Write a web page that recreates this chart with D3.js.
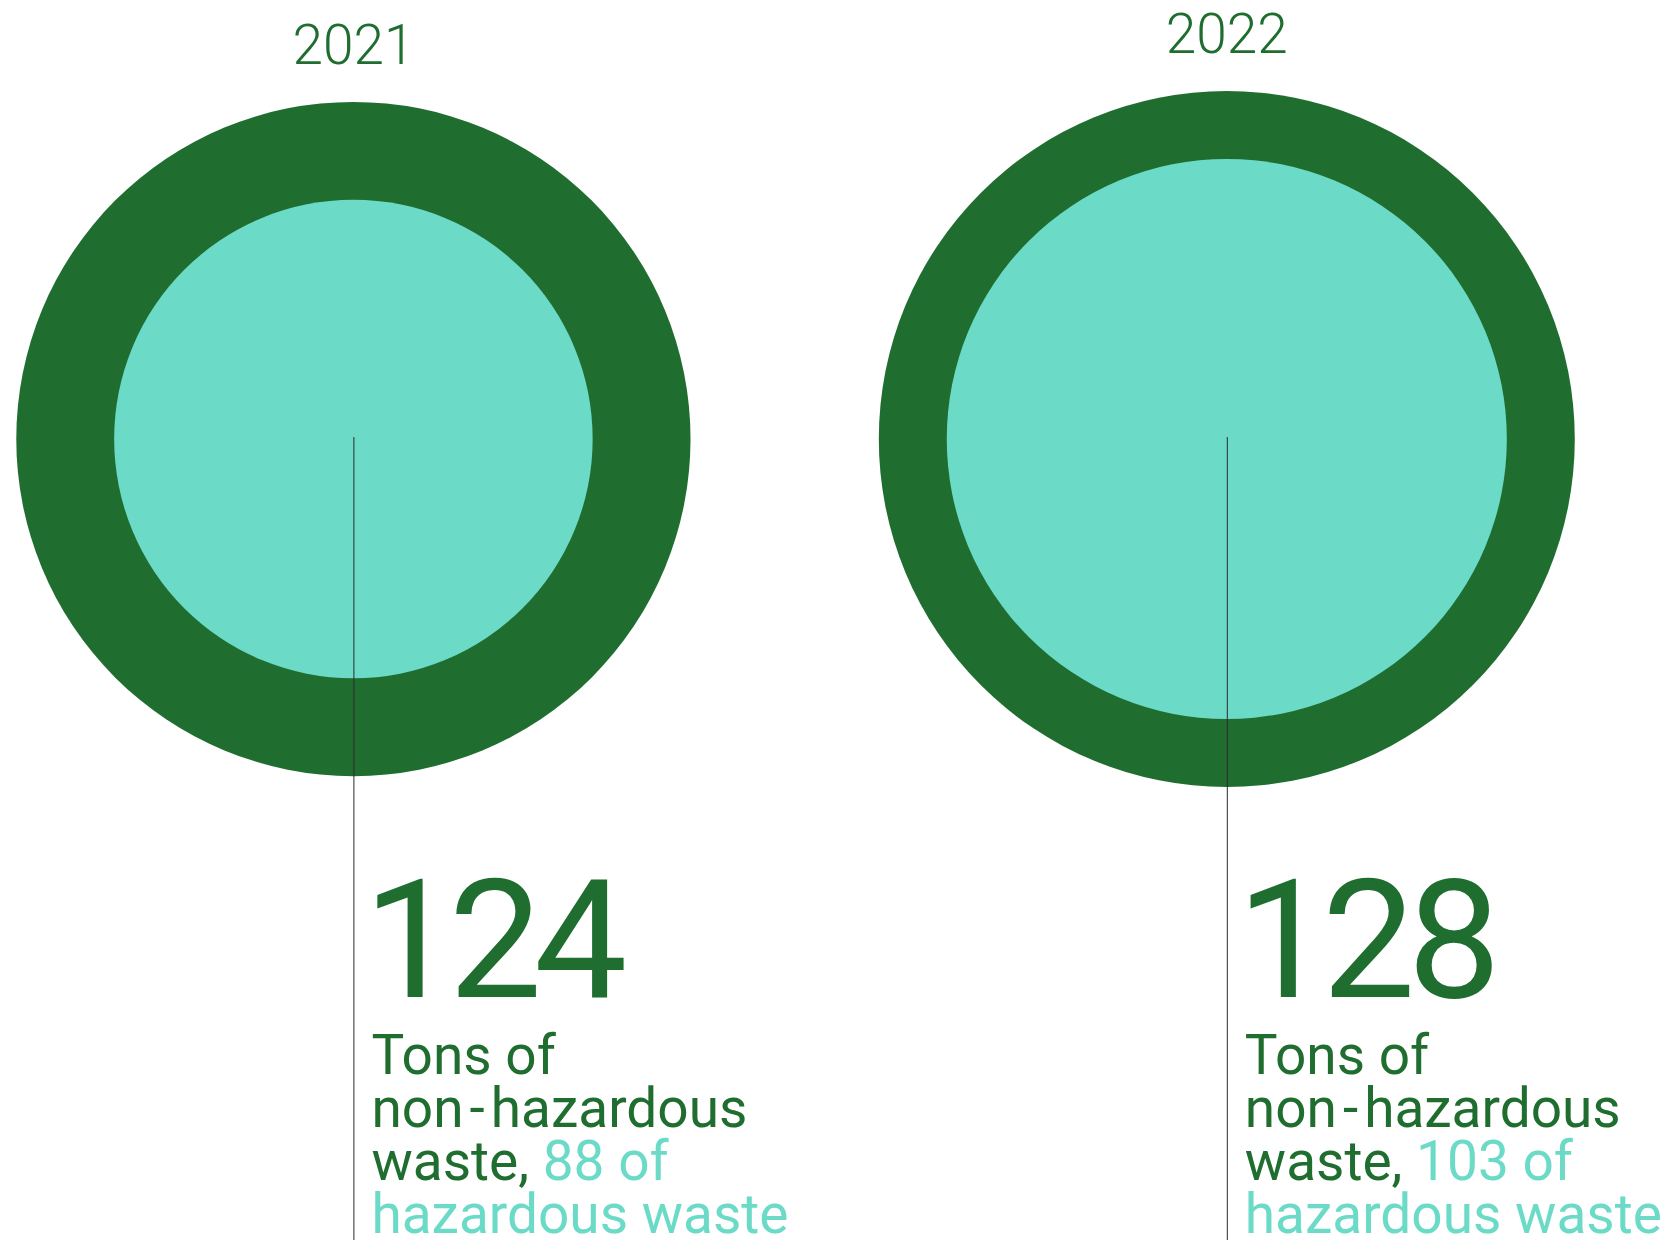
<!DOCTYPE html>
<html>
<head>
<meta charset="utf-8">
<script src="https://cdn.jsdelivr.net/npm/d3@7"></script>
<style>
  html, body { margin: 0; padding: 0; background: #ffffff; }
  svg { display: block; }
</style>
</head>
<body>
<svg id="chart" width="1664" height="1240"></svg>
<script>
// data
var years = ["2021", "2022"];
var nonHazardous = [124, 128];   // tons, outer circle
var hazardous = [88, 103];       // tons, inner circle

var config = {
    width: 1664,
    height: 1240,
    centerY: 439,
    darkGreen: "#1f6e30",
    teal: "#6bdbc7",
    lineColor: "#2b2b2b",
    fontFamily: "Roboto, 'Noto Sans', sans-serif",
    textOffsetX: 18,
    yearGap: 38,
    bigNumber: { x: 10, y: 997, size: 166, weight: 400, spacing: -8 },
    caption: { y: 1073.5, size: 55, lineHeight: 53.3, weight: 400 }
};

var svg = d3.select("#chart");

// centre of each pair of circles
var x = d3.scalePoint()
    .domain(years)
    .range([353.4, 1226.8]);

// radius grows linearly with tons
var r = d3.scaleLinear()
    .domain([0, 128])
    .range([0, 348]);

var panels = years.map(function (year, i) {
    return { year: year, total: nonHazardous[i], hazardous: hazardous[i] };
});

var g = svg.selectAll("g.panel")
    .data(panels)
    .enter()
    .append("g")
    .attr("class", "panel")
    .attr("transform", function (d) { return "translate(" + x(d.year) + ",0)"; });

// outer circle (non-hazardous)
g.append("circle")
    .attr("cx", 0)
    .attr("cy", config.centerY)
    .attr("r", function (d) { return r(d.total); })
    .attr("fill", config.darkGreen);

// inner circle (hazardous)
g.append("circle")
    .attr("cx", 0)
    .attr("cy", config.centerY)
    .attr("r", function (d) { return r(d.hazardous); })
    .attr("fill", config.teal);

// leader line from the centre down to the labels
g.append("line")
    .attr("x1", 0.5)
    .attr("x2", 0.5)
    .attr("y1", config.centerY - 2)
    .attr("y2", config.height)
    .attr("stroke", config.lineColor)
    .attr("stroke-width", 1);

// year label above the circle
g.append("text")
    .attr("x", 0)
    .attr("y", function (d) { return config.centerY - r(d.total) - config.yearGap; })
    .attr("text-anchor", "middle")
    .style("font-family", config.fontFamily)
    .style("font-size", "55px")
    .style("font-weight", 300)
    .attr("fill", config.darkGreen)
    .text(function (d) { return d.year; });

// big number
g.append("text")
    .attr("x", config.bigNumber.x)
    .attr("y", config.bigNumber.y)
    .style("font-family", config.fontFamily)
    .style("font-size", config.bigNumber.size + "px")
    .style("font-weight", config.bigNumber.weight)
    .style("letter-spacing", config.bigNumber.spacing + "px")
    .attr("fill", config.darkGreen)
    .text(function (d) { return d.total; });

// caption, one text per line; dx widens the gaps round the hyphen
g.each(function (d) {
    var lines = [
        [{ t: "Tons of", c: config.darkGreen }],
        [{ t: "non", c: config.darkGreen }, { t: "-", c: config.darkGreen, dx: 6 }, { t: "hazardous", c: config.darkGreen, dx: 6 }],
        [{ t: "waste, ", c: config.darkGreen }, { t: d.hazardous + " of", c: config.teal }],
        [{ t: "hazardous waste", c: config.teal }]
    ];
    var sel = d3.select(this);
    lines.forEach(function (parts, li) {
        var text = sel.append("text")
            .attr("x", config.textOffsetX)
            .attr("y", config.caption.y + li * config.caption.lineHeight)
            .style("font-family", config.fontFamily)
            .style("font-size", config.caption.size + "px")
            .style("font-weight", config.caption.weight)
            .style("white-space", "pre");
        parts.forEach(function (p) {
            text.append("tspan")
                .attr("dx", p.dx || 0)
                .attr("fill", p.c)
                .text(p.t);
        });
    });
});
</script>
</body>
</html>
